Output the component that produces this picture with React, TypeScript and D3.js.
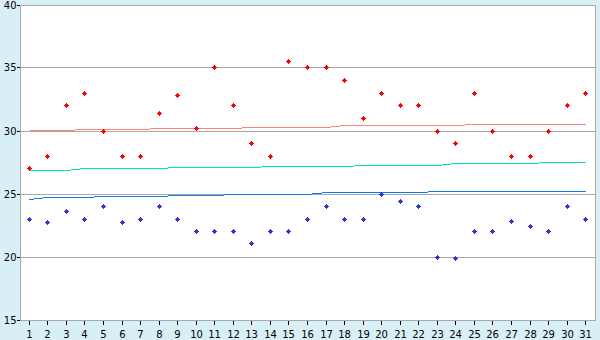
import React from "react";
import * as d3 from "d3";

const days = d3.range(1, 32).map(String);
const yTicks = [15, 20, 25, 30, 35, 40];

const maxTemps = [27, 28, 32, 33, 30, 28, 28, 31.35, 32.85, 30.2, 35, 32, 29, 28, 35.5, 35, 35, 34, 31, 33, 32, 32, 30, 29, 33, 30, 28, 28, 30, 32, 33];
const minTemps = [23, 22.7, 23.6, 23, 24, 22.7, 23, 24, 23, 22, 22, 22, 21.1, 22, 22, 23, 24, 23, 23, 25, 24.4, 24, 20, 19.9, 22, 22, 22.8, 22.4, 22, 24, 23];

const normMax = [30.05, 30.05, 30.05, 30.12, 30.12, 30.12, 30.12, 30.2, 30.2, 30.2, 30.2, 30.2, 30.28, 30.28, 30.28, 30.28, 30.28, 30.44, 30.44, 30.44, 30.44, 30.44, 30.44, 30.44, 30.52, 30.52, 30.52, 30.52, 30.52, 30.52, 30.52];
const normMean = [26.87, 26.87, 26.87, 27.02, 27.02, 27.02, 27.02, 27.02, 27.1, 27.1, 27.1, 27.1, 27.1, 27.18, 27.18, 27.18, 27.18, 27.18, 27.26, 27.26, 27.26, 27.26, 27.26, 27.42, 27.42, 27.42, 27.42, 27.42, 27.5, 27.5, 27.5];
const normMin = [24.57, 24.72, 24.72, 24.72, 24.8, 24.8, 24.8, 24.8, 24.88, 24.88, 24.88, 24.96, 24.96, 24.96, 24.96, 24.96, 25.12, 25.12, 25.12, 25.12, 25.12, 25.12, 25.2, 25.2, 25.2, 25.2, 25.2, 25.2, 25.2, 25.2, 25.2];

const W = 600;
const H = 340;
const left = 20;
const right = 595;
const top = 5;
const bottom = 320;

const BG = "#d9eff6";
const GRID = "#a9a9a9";
const FONT = "'DejaVu Sans', Verdana, sans-serif";

export default function App() {
  const x = d3.scaleBand<string>().domain(days).range([left, right]).paddingInner(0).paddingOuter(0);
  const y = d3.scaleLinear().domain([15, 40]).range([bottom, top]);
  const cx = (i: number) => Math.floor((x(days[i]) as number) + x.bandwidth() / 2);
  const cy = (v: number) => Math.floor(y(v));

  const line = d3
    .line<number>()
    .x((_, i) => cx(i) + 0.5)
    .y((v) => cy(v) + 0.5);

  const marker = (px: number, py: number, color: string, key: string) => (
    <g key={key} fill={color} shapeRendering="crispEdges">
      <rect x={px - 1} y={py - 1} width={3} height={3} />
      <rect x={px} y={py - 2} width={1} height={5} />
      <rect x={px - 2} y={py} width={5} height={1} />
    </g>
  );

  return (
    <svg
      width={W}
      height={H}
      style={{ position: "fixed", left: 0, top: 0, display: "block" }}
      fontFamily={FONT}
    >
      <rect x={0} y={0} width={W} height={H} fill={BG} />
      <rect x={left} y={top} width={right - left} height={bottom - top} fill="#ffffff" />
      {yTicks.map((t) => (
        <line
          key={"g" + t}
          x1={left}
          x2={right}
          y1={cy(t) + 0.5}
          y2={cy(t) + 0.5}
          stroke={GRID}
          strokeWidth={1}
          shapeRendering="crispEdges"
        />
      ))}
      <path d={line(normMax) || ""} fill="none" stroke="#ff8080" strokeWidth={1} shapeRendering="crispEdges" />
      <path d={line(normMean) || ""} fill="none" stroke="#00f080" strokeWidth={1} shapeRendering="crispEdges" />
      <path d={line(normMin) || ""} fill="none" stroke="#0a7af0" strokeWidth={1} shapeRendering="crispEdges" />
      {maxTemps.map((v, i) => marker(cx(i), cy(v), "#ff0000", "r" + i))}
      {minTemps.map((v, i) => marker(cx(i), cy(v), "#3333cc", "b" + i))}
      <rect
        x={left + 0.5}
        y={top + 0.5}
        width={right - left}
        height={bottom - top}
        fill="none"
        stroke={GRID}
        strokeWidth={1}
        shapeRendering="crispEdges"
      />
      {yTicks.map((t) => (
        <g key={"yt" + t}>
          <line x1={17} x2={20} y1={cy(t) + 0.5} y2={cy(t) + 0.5} stroke="#000" shapeRendering="crispEdges" />
          <text x={16.5} y={cy(t) + 4.3} textAnchor="end" fontSize={10} fill="#000">
            {t}
          </text>
        </g>
      ))}
      {days.map((d, i) => (
        <g key={"xt" + d}>
          <line x1={cx(i) + 0.5} x2={cx(i) + 0.5} y1={bottom + 1} y2={bottom + 5} stroke="#000" shapeRendering="crispEdges" />
          <text x={cx(i) + 0.5} y={338} textAnchor="middle" fontSize={10} fill="#000">
            {d}
          </text>
        </g>
      ))}
    </svg>
  );
}
